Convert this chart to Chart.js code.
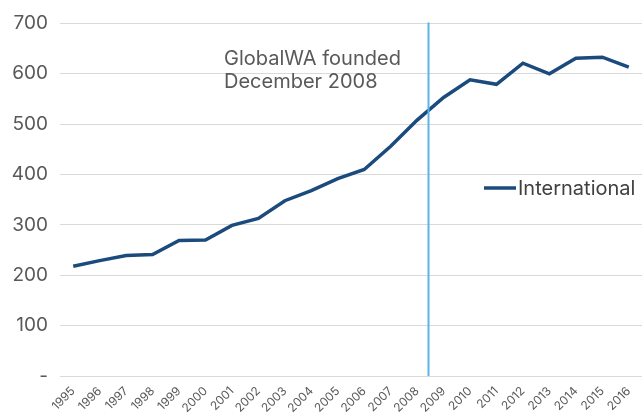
<!DOCTYPE html>
<html>
<head>
<meta charset="utf-8">
<script src="https://cdn.jsdelivr.net/npm/chart.js@4/dist/chart.umd.min.js"></script>
<style>
  html, body { margin: 0; padding: 0; background: #fff; }
  #wrap { width: 642px; height: 413px; position: relative; }
</style>
</head>
<body>
<div id="wrap"><canvas id="intlChart"></canvas></div>
<script>
var years = ['1995','1996','1997','1998','1999','2000','2001','2002','2003','2004','2005',
  '2006','2007','2008','2009','2010','2011','2012','2013','2014','2015','2016'];
var international = [218, 229, 239, 241, 269, 270, 299, 313, 348, 368, 392,
  410, 456, 508, 553, 588, 579, 621, 600, 631, 633, 613];
var yTicks = [0, 100, 200, 300, 400, 500, 600, 700];
var foundedAt = 13.43; // Dec 2008, between the 2008 and 2009 points
var noteLines = ['GlobalWA founded', 'December 2008'];
var seriesName = 'International';

var fontFam = 'Inter, "Open Sans", sans-serif';
var lineBlue = '#1B4A7C';

// vertical marker, note text and the in-plot legend
var extras = {
  id: 'extras',
  afterDatasetsDraw: function(chart) {
    var ctx = chart.ctx;
    var area = chart.chartArea;
    var x = chart.scales.x.getPixelForValue(foundedAt);
    ctx.save();
    ctx.strokeStyle = '#5BB3E6';
    ctx.lineWidth = 2;
    ctx.beginPath();
    ctx.moveTo(x, area.top - 1);
    ctx.lineTo(x, area.bottom);
    ctx.stroke();

    ctx.fillStyle = '#595959';
    ctx.font = '20px ' + fontFam;
    ctx.textBaseline = 'alphabetic';
    ctx.fillText(noteLines[0], 224, 65);
    ctx.fillText(noteLines[1], 224, 88);

    // legend
    ctx.strokeStyle = lineBlue;
    ctx.lineWidth = 3.5;
    ctx.beginPath();
    ctx.moveTo(484, 188);
    ctx.lineTo(516, 188);
    ctx.stroke();
    ctx.fillStyle = '#404040';
    ctx.textBaseline = 'middle';
    ctx.fillText(seriesName, 518, 189);
    ctx.restore();
  }
};

var chart = new Chart(document.getElementById('intlChart'), {
  type: 'line',
  data: {
    labels: years,
    datasets: [{
      label: seriesName,
      data: international,
      borderColor: lineBlue,
      borderWidth: 3.5,
      pointRadius: 0,
      tension: 0,
      fill: false
    }]
  },
  options: {
    responsive: true,
    maintainAspectRatio: false,
    animation: false,
    layout: { padding: { top: 19, right: 0, left: 0, bottom: 0 } },
    plugins: {
      legend: { display: false },
      tooltip: { enabled: false }
    },
    scales: {
      x: {
        offset: true,
        grid: { display: false },
        border: { display: false },
        afterFit: function(axis) { axis.height = 37; },
        ticks: {
          color: '#595959',
          font: { family: fontFam, size: 12 },
          minRotation: 45,
          maxRotation: 45,
          autoSkip: false,
          padding: 0
        }
      },
      y: {
        min: 0,
        max: 700,
        afterBuildTicks: function(axis) {
          axis.ticks = yTicks.map(function(v) { return { value: v }; });
        },
        afterFit: function(axis) { axis.width = 60; },
        grid: { color: '#D9D9D9', lineWidth: 1, drawTicks: false },
        border: { display: false },
        ticks: {
          color: '#595959',
          font: { family: fontFam, size: 19 },
          padding: 12,
          callback: function(v) { return v === 0 ? '-' : v; }
        }
      }
    }
  },
  plugins: [extras]
});
</script>
</body>
</html>
